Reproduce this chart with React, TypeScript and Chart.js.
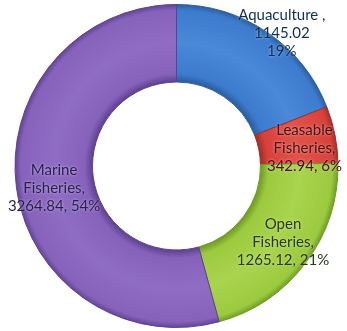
import React, { useEffect, useRef } from "react";
import { Chart, registerables } from "chart.js";

Chart.register(...registerables);

// ---- data ----
const categories = ["Aquaculture", "Leasable Fisheries", "Open Fisheries", "Marine Fisheries"];
const values = [1145.02, 342.94, 1265.12, 3264.84];
const percents = ["19%", "6%", "21%", "54%"];
const labelLines = [
  ["Aquaculture ,", "1145.02", "19%"],
  ["Leasable", "Fisheries,", "342.94, 6%"],
  ["Open", "Fisheries,", "1265.12, 21%"],
  ["Marine", "Fisheries,", "3264.84, 54%"],
];

// ---- styles ----
const fillColors = ["#3c7bcd", "#d8413b", "#9cca3e", "#8662ba"];
const edgeColors = ["#2c5c9c", "#a02f2a", "#6f9a26", "#5e4290"];
const lightColors = ["#4a88d8", "#e2534c", "#a9d44e", "#906dc4"];
const borderColors = ["#2d5f9e", "#9c2e2a", "#6f9a28", "#5d4190"];
const textColors = ["#112c58", "#4a0f0f", "#283a0a", "#2a1d52"];
const CUTOUT = 0.52;
// label placement: angle (deg, clockwise from top) and radius as fraction of outer radius
const labelAngles = [38.4, 82, 125.5, 259.8];
const labelRadii = [1.05, 0.8, 0.81, 0.77];

const labelPlugin = {
  id: "sliceLabels",
  afterDatasetsDraw(chart: any) {
    const ctx = chart.ctx;
    const meta = chart.getDatasetMeta(0);
    ctx.save();
    ctx.font = "15px Lato, 'Open Sans', sans-serif";
    ctx.textAlign = "center";
    ctx.textBaseline = "middle";
    ctx.shadowColor = "rgba(255,255,255,0.55)";
    ctx.shadowBlur = 3;
    const lh = 18;
    meta.data.forEach((arc: any, i: number) => {
      const { x, y, outerRadius } = arc.getProps(["x", "y", "outerRadius"], true);
      const a = (labelAngles[i] * Math.PI) / 180;
      const r = outerRadius * labelRadii[i];
      const cx = x + r * Math.sin(a);
      const cy = y - r * Math.cos(a);
      const lines = labelLines[i];
      const start = cy - ((lines.length - 1) * lh) / 2;
      ctx.fillStyle = textColors[i];
      lines.forEach((t, k) => ctx.fillText(t, cx, start + k * lh));
    });
    ctx.restore();
  },
};

function sliceFill(c: any) {
  const i = c.dataIndex;
  const chart = c.chart;
  const area = chart.chartArea;
  if (!area) return fillColors[i];
  const cx = (area.left + area.right) / 2;
  const cy = (area.top + area.bottom) / 2;
  const outer = Math.min(area.right - area.left, area.bottom - area.top) / 2;
  const inner = outer * CUTOUT;
  const g = chart.ctx.createRadialGradient(cx, cy, inner, cx, cy, outer);
  g.addColorStop(0, edgeColors[i]);
  g.addColorStop(0.1, fillColors[i]);
  g.addColorStop(0.5, lightColors[i]);
  g.addColorStop(0.92, fillColors[i]);
  g.addColorStop(1, edgeColors[i]);
  return g;
}

export default function App() {
  const ref = useRef<HTMLCanvasElement | null>(null);
  useEffect(() => {
    document.body.style.margin = "0";
    const chart = new Chart(ref.current as HTMLCanvasElement, {
      type: "doughnut",
      data: {
        labels: categories,
        datasets: [
          {
            data: values,
            backgroundColor: sliceFill,
            borderColor: borderColors,
            borderWidth: 1,
          },
        ],
      },
      options: {
        animation: false,
        responsive: true,
        maintainAspectRatio: false,
        cutout: `${CUTOUT * 100}%`,
        layout: { padding: { left: 10, right: 4, top: 4, bottom: 3 } },
        plugins: {
          legend: { display: false },
          tooltip: { enabled: false },
        },
      },
      plugins: [labelPlugin],
    });
    return () => chart.destroy();
  }, []);
  return (
    <div style={{ width: 347, height: 331, position: "relative", background: "#fff" }}>
      <canvas ref={ref} />
    </div>
  );
}
